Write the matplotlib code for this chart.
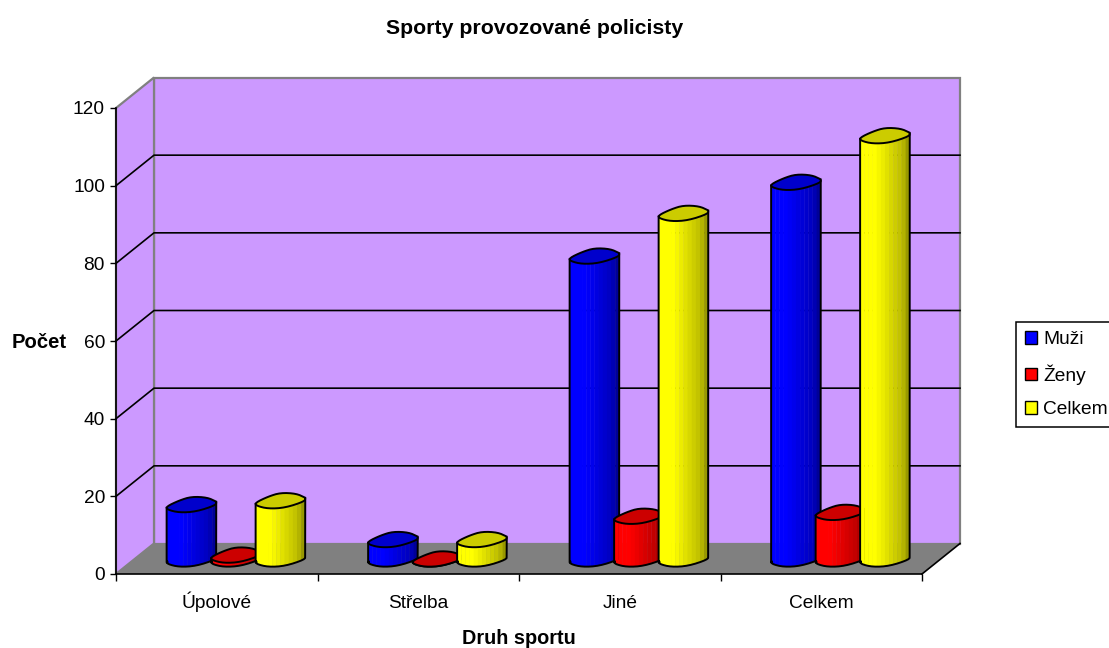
import numpy as np
import matplotlib
matplotlib.use('Agg')
import matplotlib.pyplot as plt
from matplotlib.patches import Patch

plt.rcParams['font.family'] = ['Liberation Sans', 'DejaVu Sans']

# Data
categories = ['Úpolové', 'Střelba', 'Jiné', 'Celkem']
muzi = [14, 5, 78, 97]
zeny = [1, 0, 11, 12]
celkem = [15, 5, 89, 109]
series_names = ['Muži', 'Ženy', 'Celkem']
series_colors = [(0, 0, 1), (1, 0, 0), (1, 1, 0)]
y_ticks = [0, 20, 40, 60, 80, 100, 120]

WALL = '#CC99FF'
GREY = '#808080'
FONT = 13.8

W, H = 1109, 648
# plot box in pixels
left, right, top, bottom = 116, 922, 108, 574
DEPTH_X, DEPTH_Y = 38, 30.5   # pixel offset of back wall
BAR_STEP = 44.5
BASE_UP = 15                  # bar base centre above the front axis, px

# wobbly top of the cylinder, px offsets from its centre (clockwise from the left)
UPPER_X = [-25, -12, 0.3, 16, 25]
UPPER_Y = [-2, 4.2, 8, 7.2, 3]
LOWER_X = [25, 24.7, 5, -12, -24]
LOWER_Y = [3, -0.5, -7, -8, -5]


def smooth_loop(x, y, rounds=2):
    """Corner cutting so the cap is not an angular polygon."""
    pts = np.column_stack([x, y])
    for _ in range(rounds):
        nxt = np.roll(pts, -1, axis=0)
        pts = np.column_stack([0.75 * pts + 0.25 * nxt, 0.25 * pts + 0.75 * nxt]).reshape(-1, 2)
    return pts[:, 0], pts[:, 1]


CAP_X, CAP_Y = smooth_loop(UPPER_X + LOWER_X, UPPER_Y + LOWER_Y)
# lower half of the cap, sorted by x, is also the foot of the cylinder
_low = CAP_Y <= np.interp(CAP_X, [-24, 24], [-2, 2])
FOOT_ORDER = np.argsort(CAP_X[_low])
FOOT_X = CAP_X[_low][FOOT_ORDER]
FOOT_Y = CAP_Y[_low][FOOT_ORDER]
X_MIN, X_MAX = CAP_X.min(), CAP_X.max()


def shade(t):
    """Brightness across the cylinder, t from 0 (left) to 1 (right)."""
    return np.interp(t, [0, 0.3, 0.55, 0.8, 0.93, 1], [1, 1, 0.88, 0.76, 0.66, 0.5])


def draw_cylinder(ax, xc, value, color, px_x, px_y, base):
    y_top = base + value
    edges = np.linspace(X_MIN, X_MAX, 13)
    for a, b in zip(edges[:-1], edges[1:]):
        t = ((a + b) / 2 - X_MIN) / (X_MAX - X_MIN)
        xx = np.linspace(a, min(b + 0.4, X_MAX), 6)
        low = np.interp(xx, FOOT_X, FOOT_Y)
        xs = np.concatenate([xx, xx[::-1]])
        ys = np.concatenate([base + low * px_y, (y_top + low[::-1] * px_y)])
        c = tuple(v * shade(t) for v in color)
        ax.fill(xc + xs * px_x, ys, color=c, lw=0, clip_on=False, zorder=5)
    # outline of the body
    out_x = np.concatenate([[X_MIN], FOOT_X, [X_MAX]])
    out_y = np.concatenate([[y_top + FOOT_Y[0] * px_y],
                            base + FOOT_Y * px_y,
                            [y_top + FOOT_Y[-1] * px_y]])
    ax.plot(xc + out_x * px_x, out_y, color='black', lw=1.4, clip_on=False, zorder=5)
    # cap
    cap_c = tuple(v * 0.8 for v in color)
    ax.fill(xc + CAP_X * px_x, y_top + CAP_Y * px_y, facecolor=cap_c,
            edgecolor='black', lw=1.4, clip_on=False, zorder=5)


def main():
    fig = plt.figure(figsize=(W / 100, H / 100), dpi=100)
    ax = fig.add_axes([left / W, 1 - bottom / H, (right - left) / W, (bottom - top) / H])
    ax.set_xlim(0, len(categories))
    ax.set_ylim(0, 120)
    ax.patch.set_visible(False)

    px_x = len(categories) / (right - left)
    px_y = 120 / (bottom - top)
    dx = DEPTH_X * px_x
    dy = DEPTH_Y * px_y
    n = len(categories)

    # walls and floor
    ax.fill([dx, n + dx, n + dx, dx], [dy, dy, 120 + dy, 120 + dy], facecolor=WALL,
            edgecolor=GREY, lw=1.6, clip_on=False, zorder=1)
    ax.fill([0, dx, dx, 0], [0, dy, 120 + dy, 120], facecolor=WALL,
            edgecolor=GREY, lw=1.6, clip_on=False, zorder=1)
    ax.fill([0, dx, n + dx, n], [0, dy, dy, 0], facecolor=GREY,
            edgecolor='none', clip_on=False, zorder=2)
    ax.plot([n, n + dx], [0, dy], color='black', lw=1.2, clip_on=False, zorder=2)

    # gridlines on the back and side wall
    for v in y_ticks[1:-1]:
        ax.plot([0, dx, n + dx], [v, v + dy, v + dy], color='black', lw=1.2,
                clip_on=False, zorder=3)

    # cylinders
    base = BASE_UP * px_y
    for j, (vals, color) in enumerate(zip([muzi, zeny, celkem], series_colors)):
        for i, v in enumerate(vals):
            xc = i + 0.5 + (j - 1) * BAR_STEP * px_x + dx / 2
            draw_cylinder(ax, xc, v, color, px_x, px_y, base)

    # axes
    for s in ['top', 'right']:
        ax.spines[s].set_visible(False)
    for s in ['left', 'bottom']:
        ax.spines[s].set_linewidth(1.2)
        ax.spines[s].set_zorder(4)
    ax.set_yticks(y_ticks)
    ax.tick_params(axis='y', length=4.5, width=1, labelsize=FONT, pad=3.5)
    ax.set_xticks(range(n + 1))
    ax.set_xticklabels([])
    ax.tick_params(axis='x', which='major', length=5, width=1)
    ax.set_xticks(np.arange(n) + 0.5, minor=True)
    ax.set_xticklabels(categories, minor=True, fontsize=FONT)
    ax.tick_params(axis='x', which='minor', length=0, pad=24.5)
    for lab in ax.get_xticklabels(minor=True):
        lab.set_verticalalignment('baseline')

    fig.text(534.5 / W, 1 - 29 / H, 'Sporty provozované policisty', ha='center', va='center',
             fontsize=15.3, fontweight='bold')
    fig.text(12 / W, 1 - 343 / H, 'Počet', ha='left', va='center', fontsize=14.6, fontweight='bold')
    fig.text(519 / W, 1 - 638 / H, 'Druh sportu', ha='center', va='center',
             fontsize=14.3, fontweight='bold')

    handles = [Patch(facecolor=c, edgecolor='black', label=s)
               for s, c in zip(series_names, series_colors)]
    leg = fig.legend(handles=handles, loc='upper left', bbox_to_anchor=(1016 / W, 1 - 322 / H),
                     fontsize=FONT, frameon=True, fancybox=False, edgecolor='black', framealpha=1,
                     handlelength=0.63, handleheight=0.63, handletextpad=0.31, labelspacing=0.85,
                     borderpad=0.47, borderaxespad=0)
    leg.get_frame().set_linewidth(1.1)

    fig.savefig('out.png', dpi=100)


if __name__ == "__main__":
    main()
